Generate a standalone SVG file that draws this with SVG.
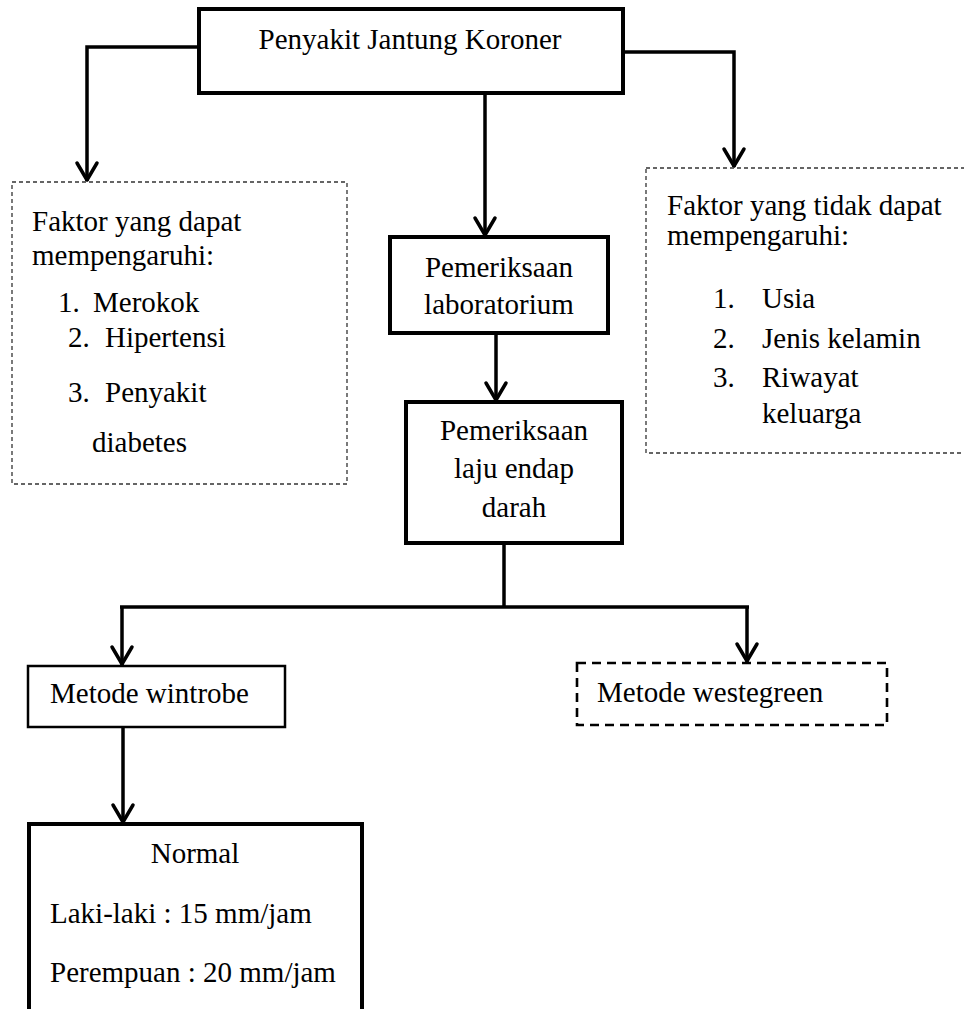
<svg xmlns="http://www.w3.org/2000/svg" width="964" height="1009" viewBox="0 0 964 1009">
<style>
  text { font-family: "Liberation Serif", "Times New Roman", serif; font-size: 29px; fill: #000; }
  .c { text-anchor: middle; }
  .box { fill: #fff; stroke: #000; stroke-width: 4; }
  .thin { fill: #fff; stroke: #000; stroke-width: 2.5; }
  .dash { fill: #fff; stroke: #333; stroke-width: 1.3; stroke-dasharray: 4 3; }
  .dashb { fill: #fff; stroke: #000; stroke-width: 2.6; stroke-dasharray: 9 6; }
  .conn { fill: none; stroke: #000; stroke-width: 3.5; }
</style>
<defs>
  <marker id="arr" markerUnits="userSpaceOnUse" viewBox="-22 -14 26 28" markerWidth="26" markerHeight="28" refX="0" refY="0" orient="auto" overflow="visible">
    <path d="M-18,-10 L-1,0 L-18,10" fill="none" stroke="#000" stroke-width="3.5" stroke-linejoin="round" stroke-linecap="round"/>
  </marker>
</defs>
<rect width="964" height="1009" fill="#fff"/>

<g id="connectors">
  <path class="conn" d="M199,47 H87 V181" marker-end="url(#arr)"/>
  <path class="conn" d="M623,52 H734 V167" marker-end="url(#arr)"/>
  <path class="conn" d="M485,93 V236" marker-end="url(#arr)"/>
  <path class="conn" d="M496,333 V401" marker-end="url(#arr)"/>
  <path class="conn" d="M504,543 V607"/>
  <path class="conn" d="M120,607 H749"/>
  <path class="conn" d="M122,607 V665" marker-end="url(#arr)"/>
  <path class="conn" d="M747,607 V662" marker-end="url(#arr)"/>
  <path class="conn" d="M123,727 V823" marker-end="url(#arr)"/>
</g>

<g id="node-pjk">
  <rect class="box" x="199" y="9" width="424" height="84"/>
  <text class="c" x="410" y="49">Penyakit Jantung Koroner</text>
</g>

<g id="node-faktor-dapat">
  <rect class="dash" x="12" y="182" width="335" height="302"/>
  <text x="32" y="231">Faktor yang dapat</text>
  <text x="32" y="265">mempengaruhi:</text>
  <text x="58" y="312">1.</text><text x="93" y="312">Merokok</text>
  <text x="68" y="347">2.</text><text x="105" y="347">Hipertensi</text>
  <text x="68" y="402">3.</text><text x="105" y="402">Penyakit</text>
  <text x="92" y="452">diabetes</text>
</g>

<g id="node-faktor-tidak">
  <rect class="dash" x="646" y="168" width="330" height="285"/>
  <text x="667" y="215">Faktor yang tidak dapat</text>
  <text x="667" y="245">mempengaruhi:</text>
  <text x="713" y="308">1.</text><text x="762" y="308">Usia</text>
  <text x="713" y="348">2.</text><text x="762" y="348">Jenis kelamin</text>
  <text x="713" y="387">3.</text><text x="762" y="387">Riwayat</text>
  <text x="762" y="423">keluarga</text>
</g>

<g id="node-lab">
  <rect class="box" x="390" y="237" width="218" height="96"/>
  <text class="c" x="499" y="277">Pemeriksaan</text>
  <text class="c" x="499" y="314">laboratorium</text>
</g>

<g id="node-led">
  <rect class="box" x="406" y="402" width="216" height="141"/>
  <text class="c" x="514" y="440">Pemeriksaan</text>
  <text class="c" x="514" y="478">laju endap</text>
  <text class="c" x="514" y="517">darah</text>
</g>

<g id="node-wintrobe">
  <rect class="thin" x="28" y="666" width="257" height="61"/>
  <text x="50" y="703">Metode wintrobe</text>
</g>

<g id="node-westegreen">
  <rect class="dashb" x="577" y="663" width="310" height="62"/>
  <text x="597" y="702">Metode westegreen</text>
</g>

<g id="node-normal">
  <rect class="box" x="29" y="824" width="333" height="200"/>
  <text class="c" x="195" y="863">Normal</text>
  <text x="50" y="923">Laki-laki : 15 mm/jam</text>
  <text x="50" y="982">Perempuan : 20 mm/jam</text>
</g>
</svg>
